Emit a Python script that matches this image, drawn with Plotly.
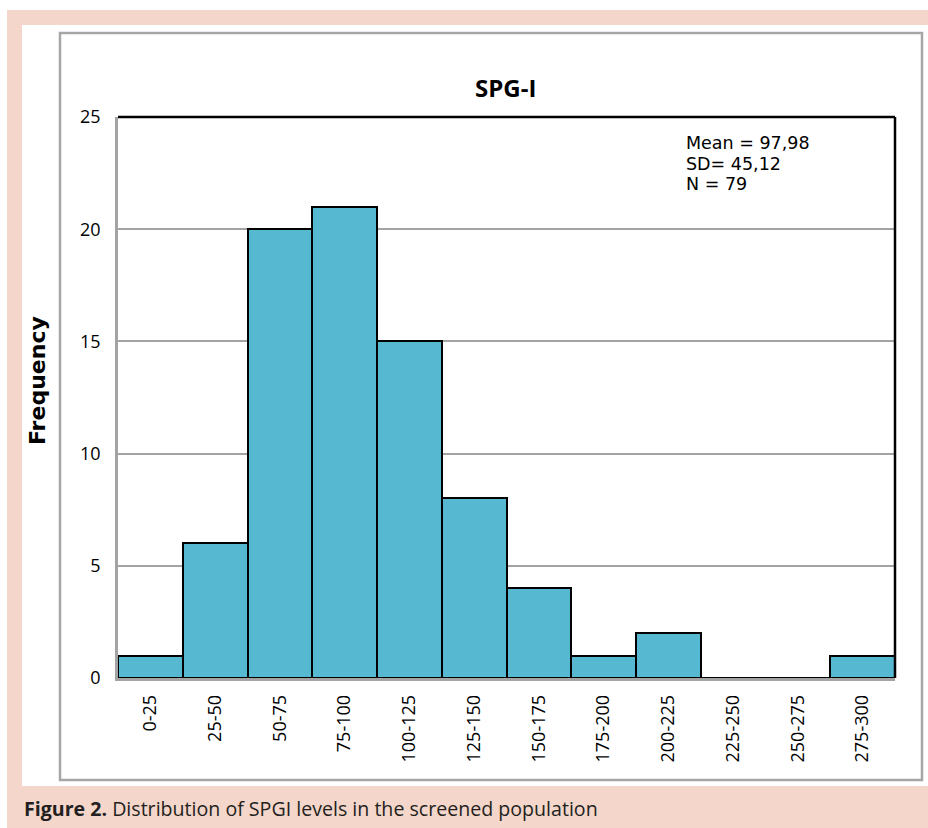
import plotly.graph_objects as go

# ---- data ----
categories = ["0-25", "25-50", "50-75", "75-100", "100-125", "125-150",
              "150-175", "175-200", "200-225", "225-250", "250-275", "275-300"]
frequency = [1, 6, 20, 21, 15, 8, 4, 1, 2, 0, 0, 1]
stats_lines = ["Mean = 97,98", "SD= 45,12", "N = 79"]
title_text = "SPG-I"
y_title = "Frequency"
caption_bold = "Figure 2."
caption_rest = " Distribution of SPGI levels in the screened population"

# ---- layout geometry (page pixels) ----
W, H = 928, 828
PL, PR, PT, PB = 118, 895, 117, 678   # plot area


def fx(px):
    return (px - PL) / (PR - PL)


def fy(py):
    return (PB - py) / (PB - PT)


PINK = "#f4d6ca"
BAR = "#56b9d1"
GRID = "#a3a3a3"

fig = go.Figure()
fig.add_trace(go.Bar(
    x=categories, y=frequency, width=1,
    marker=dict(color=BAR, line=dict(color="black", width=2)),
))

shapes = [
    dict(type="rect", xref="paper", yref="paper", x0=fx(7), x1=fx(W + 5), y0=fy(H + 5), y1=fy(10),
         fillcolor=PINK, line=dict(width=0), layer="below"),
    dict(type="rect", xref="paper", yref="paper", x0=fx(22), x1=fx(W + 5), y0=fy(786), y1=fy(25),
         fillcolor="white", line=dict(width=0), layer="below"),
    dict(type="rect", xref="paper", yref="paper", x0=fx(60), x1=fx(922), y0=fy(780), y1=fy(33),
         fillcolor="rgba(0,0,0,0)", line=dict(color="#a6a6a6", width=2.5), layer="below"),
    dict(type="line", xref="paper", yref="paper", x0=0, x1=1, y0=1, y1=1,
         line=dict(color="black", width=2.5), layer="above"),
    dict(type="line", xref="paper", yref="paper", x0=1, x1=1, y0=0, y1=1,
         line=dict(color="black", width=2.5), layer="above"),
]

annotations = [
    dict(text=f"<b>{title_text}</b>", xref="paper", yref="paper", x=fx(505), y=fy(87),
         xanchor="center", yanchor="middle", showarrow=False,
         font=dict(family="Open Sans", size=24, color="black")),
    dict(text=f"<b>{y_title}</b>", xref="paper", yref="paper", x=fx(37), y=fy(381),
         xanchor="center", yanchor="middle", textangle=-90, showarrow=False,
         font=dict(family="DejaVu Sans", size=22, color="black")),
    dict(text=f"<b>{caption_bold}</b>{caption_rest}", xref="paper", yref="paper",
         x=fx(22), y=fy(809), xanchor="left", yanchor="middle", showarrow=False,
         font=dict(family="Open Sans", size=19.6, color="#231f20")),
]
for line, py in zip(stats_lines, [143, 164, 184]):
    annotations.append(dict(text=line, xref="paper", yref="paper", x=fx(684), y=fy(py),
                            xanchor="left", yanchor="middle", showarrow=False,
                            font=dict(family="DejaVu Sans", size=17.5, color="black")))

fig.update_layout(
    width=W, height=H,
    margin=dict(l=PL, r=W - PR, t=PT, b=H - PB),
    paper_bgcolor="white", plot_bgcolor="white",
    showlegend=False, bargap=0,
    shapes=shapes, annotations=annotations,
    xaxis=dict(type="category", showgrid=False, showline=True, linecolor=GRID, linewidth=2.5,
               tickangle=-90, ticks="", ticklabelstandoff=7,
               tickfont=dict(family="Open Sans", size=18, color="black")),
    yaxis=dict(range=[0, 25], dtick=5, showgrid=True, gridcolor=GRID, gridwidth=2,
               showline=True, linecolor=GRID, linewidth=2.5, zeroline=False,
               ticks="", ticklabelstandoff=11,
               tickfont=dict(family="Open Sans", size=18, color="black")),
)

fig.write_html("out.html", config={"displayModeBar": False},
               post_script="document.body.style.margin='0px';")
